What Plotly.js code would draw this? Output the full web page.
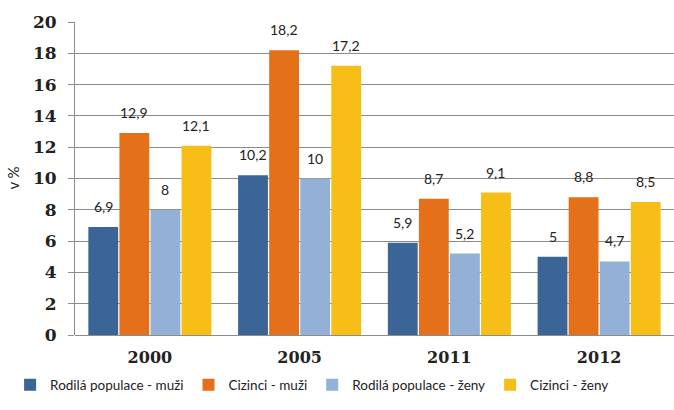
<!DOCTYPE html>
<html><head><meta charset="utf-8">
<script src="https://cdn.plot.ly/plotly-3.0.1.min.js"></script>
<style>html,body{margin:0;padding:0;background:#fff}</style>
</head><body>
<div id="chart" style="width:674px;height:410px"></div>
<script>
const categories = ['2000', '2005', '2011', '2012'];
const seriesNames = ['Rodilá populace - muži', 'Cizinci - muži', 'Rodilá populace - ženy', 'Cizinci - ženy'];
const rodilaMuzi = [6.9, 10.2, 5.9, 5];
const ciziniMuzi = [12.9, 18.2, 8.7, 8.8];
const rodilaZeny = [8, 10, 5.2, 4.7];
const ciziniZeny = [12.1, 17.2, 9.1, 8.5];
const yTicks = [0, 2, 4, 6, 8, 10, 12, 14, 16, 18, 20];
const yTitle = 'v %';

const seriesValues = [rodilaMuzi, ciziniMuzi, rodilaZeny, ciziniZeny];
const colors = ['#3C6597', '#E4711A', '#93B1D6', '#F7BE17'];
const bargap = 0.17;

const traces = seriesValues.map((vals, i) => ({
  type: 'bar',
  name: seriesNames[i],
  x: categories,
  y: vals,
  marker: {color: colors[i], line: {width: 0}},
  hoverinfo: 'none'
}));

const slot = (1 - bargap) / seriesValues.length;
const annotations = [];
seriesValues.forEach((vals, i) => {
  vals.forEach((v, j) => {
    annotations.push({
      x: j + (i - (seriesValues.length - 1) / 2) * slot,
      y: v,
      xref: 'x', yref: 'y',
      text: String(v).replace('.', ','),
      showarrow: false,
      yanchor: 'bottom',
      yshift: 10,
      font: {family: 'Lato, "Open Sans", sans-serif', size: 14, color: '#222'}
    });
  });
});
annotations.push({
  xref: 'paper', yref: 'paper', x: -0.105, y: 0.5,
  xanchor: 'center', yanchor: 'middle', textangle: -90,
  text: yTitle, showarrow: false,
  font: {family: 'Lato, "Open Sans", sans-serif', size: 15, color: '#222'}
});

const layout = {
  width: 674, height: 410,
  margin: {l: 75, r: 0, t: 22, b: 75, autoexpand: false},
  paper_bgcolor: '#fff', plot_bgcolor: '#fff',
  barmode: 'group',
  bargap: bargap,
  bargroupgap: 0.04,
  showlegend: true,
  legend: {orientation: 'h', xref: 'container', x: 0.015, xanchor: 'left',
    y: -0.11, yanchor: 'top',
    font: {family: 'Lato, "Open Sans", sans-serif', size: 13.5, color: '#222'},
    itemwidth: 30, traceorder: 'normal', tracegroupgap: 0},
  xaxis: {
    type: 'category',
    tickfont: {family: '"DejaVu Serif", serif', size: 16, color: '#222', weight: 'bold'},
    showline: false, showgrid: false, ticks: 'outside', ticklen: 8, tickcolor: 'rgba(0,0,0,0)'
  },
  yaxis: {
    range: [0, 20],
    tickvals: yTicks,
    ticktext: yTicks.map(String),
    tickfont: {family: '"DejaVu Serif", serif', size: 17, color: '#222', weight: 'bold'},
    showgrid: true, gridcolor: '#8c8c8c', gridwidth: 1,
    zeroline: true, zerolinecolor: '#8c8c8c', zerolinewidth: 1,
    showline: true, linecolor: '#8c8c8c', linewidth: 1,
    ticks: 'outside', ticklen: 6, tickcolor: '#8c8c8c',
    ticklabelstandoff: 8
  },
  annotations: annotations
};

Plotly.newPlot('chart', traces, layout, {displayModeBar: false, staticPlot: true});
</script>
</body></html>
